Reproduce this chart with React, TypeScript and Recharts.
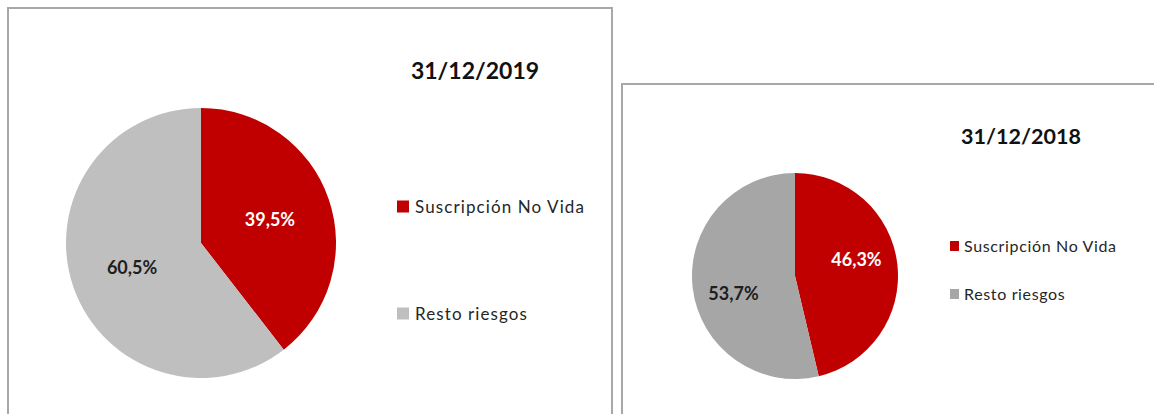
import { Pie, PieChart, Cell } from "recharts";

const categories = ["Suscripción No Vida", "Resto riesgos"];
const values2019 = [39.5, 60.5];
const values2018 = [46.3, 53.7];
const titles = ["31/12/2019", "31/12/2018"];

const RED = "#C00000";
const colors2019 = [RED, "#BFBFBF"];
const colors2018 = [RED, "#A6A6A6"];
const labelColors = ["#FFFFFF", "#1E1E1E"];
const FONT = "Lato, 'Open Sans', sans-serif";

const fmt = (v: number) => v.toFixed(1).replace(".", ",") + "%";

interface PanelProps {
  title: string;
  values: number[];
  colors: string[];
  box: { left: number; top: number; width: number; height: number };
  chart: { width: number; height: number; cx: number; cy: number; r: number };
  labelFactor: number;
  labelShift: number;
  titlePos: { x: number; y: number; size: number };
  legend: {
    x: number;
    rows: number[];
    sq: [number, number];
    textX: number;
    size: number;
    spacing: number;
  };
}

function PiePanel({
  title,
  values,
  colors,
  box,
  chart,
  labelFactor,
  labelShift,
  titlePos,
  legend,
}: PanelProps) {
  const data = categories.map((name, i) => ({ name, value: values[i] }));

  const renderLabel = (props: any) => {
    const { cx, cy, midAngle, outerRadius, index, value } = props;
    const a = ((midAngle + labelShift) * Math.PI) / 180;
    const rr = outerRadius * labelFactor;
    return (
      <text
        x={cx + rr * Math.cos(a)}
        y={cy - rr * Math.sin(a)}
        textAnchor="middle"
        dominantBaseline="central"
        fill={labelColors[index]}
        fontFamily={FONT}
        fontWeight={700}
        fontSize={18}
      >
        {fmt(value)}
      </text>
    );
  };

  return (
    <div
      style={{
        position: "absolute",
        left: box.left,
        top: box.top,
        width: box.width,
        height: box.height,
        boxSizing: "border-box",
        border: "2px solid #A8A8A8",
        background: "#fff",
      }}
    >
      <div style={{ position: "absolute", left: 0, top: 0 }}>
        <PieChart
          width={chart.width}
          height={chart.height}
          margin={{ top: 0, right: 0, bottom: 0, left: 0 }}
        >
          <Pie
            data={data}
            dataKey="value"
            nameKey="name"
            cx={chart.cx}
            cy={chart.cy}
            outerRadius={chart.r}
            startAngle={90}
            endAngle={-270}
            stroke="none"
            label={renderLabel}
            labelLine={false}
            isAnimationActive={false}
          >
            {data.map((d, i) => (
              <Cell key={d.name} fill={colors[i]} />
            ))}
          </Pie>
        </PieChart>
      </div>
      <div
        style={{
          position: "absolute",
          left: titlePos.x,
          top: titlePos.y,
          transform: "translate(-50%, -50%)",
          fontFamily: FONT,
          fontWeight: 700,
          fontSize: titlePos.size,
          lineHeight: 1,
          color: "#111",
          whiteSpace: "nowrap",
        }}
      >
        {title}
      </div>
      {categories.map((c, i) => (
        <div
          key={c}
          style={{
            position: "absolute",
            left: legend.x,
            top: legend.rows[i],
            transform: "translateY(-50%)",
            display: "flex",
            alignItems: "center",
            whiteSpace: "nowrap",
          }}
        >
          <span
            style={{
              display: "inline-block",
              width: legend.sq[0],
              height: legend.sq[1],
              background: colors[i],
            }}
          />
          <span
            style={{
              marginLeft: legend.textX - legend.x - legend.sq[0],
              fontFamily: FONT,
              fontSize: legend.size,
              letterSpacing: legend.spacing,
              lineHeight: 1,
              color: "#262626",
            }}
          >
            {c}
          </span>
        </div>
      ))}
    </div>
  );
}

export default function App() {
  return (
    <div
      style={{
        position: "absolute",
        left: 0,
        top: 0,
        width: 1154,
        height: 414,
        overflow: "hidden",
        background: "#fff",
      }}
    >
      <PiePanel
        title={titles[0]}
        values={values2019}
        colors={colors2019}
        box={{ left: 7, top: 7, width: 606, height: 430 }}
        chart={{ width: 380, height: 400, cx: 192, cy: 234, r: 135 }}
        labelFactor={0.54}
        labelShift={0}
        titlePos={{ x: 466, y: 61, size: 23 }}
        legend={{ x: 388, rows: [197, 304], sq: [12, 12], textX: 406, size: 17, spacing: 1.1 }}
      />
      <PiePanel
        title={titles[1]}
        values={values2018}
        colors={colors2018}
        box={{ left: 621, top: 83, width: 600, height: 400 }}
        chart={{ width: 320, height: 330, cx: 172, cy: 191, r: 103 }}
        labelFactor={0.62}
        labelShift={9}
        titlePos={{ x: 398, y: 52, size: 21.5 }}
        legend={{ x: 327, rows: [161, 209], sq: [9, 10], textX: 341, size: 16, spacing: 0.65 }}
      />
    </div>
  );
}
